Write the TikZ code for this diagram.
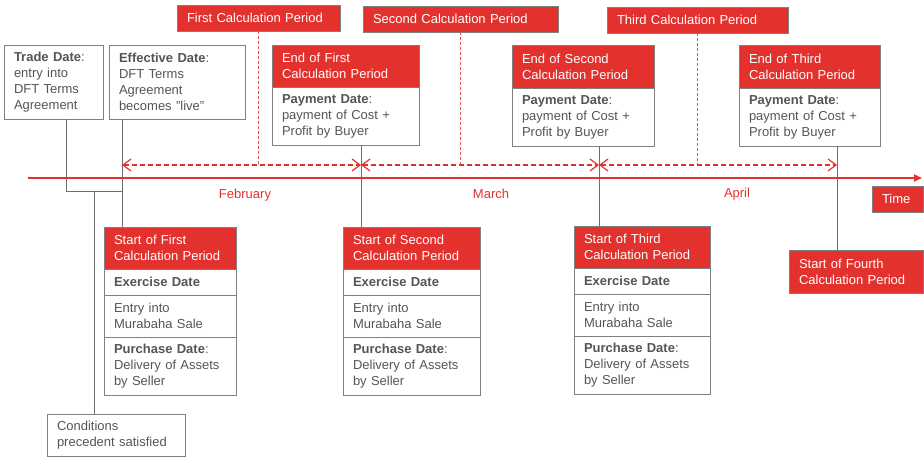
\documentclass[tikz,border=0pt]{standalone}
\usepackage{fontspec}
\setmainfont{Liberation Sans}
\usetikzlibrary{positioning,arrows.meta}
\definecolor{dftred}{RGB}{227,50,46}
\definecolor{dftgray}{RGB}{128,128,128}
\definecolor{dfttext}{RGB}{85,85,85}
\definecolor{dftline}{RGB}{110,110,110}

\begin{document}
\begin{tikzpicture}[x=1pt,y=-1pt]
  \tikzset{BoxStyle/.style 2 args = {
    shape          = rectangle,
    draw           = dftgray,
    fill           = white,
    line width     = 0.9pt,
    text           = dfttext,
    align          = left,
    anchor         = north west,
    inner xsep     = 10pt,
    inner ysep     = 0pt,
    outer sep      = 0pt,
    text width     = #1pt-20pt,
    minimum height = #2pt,
    font           = \fontsize{13}{16}\selectfont
    }
  }
  \tikzset{HeadStyle/.style 2 args = {
    BoxStyle = {#1}{#2},
    fill     = dftred,
    text     = white
    }
  }
  \tikzset{LinkStyle/.style = {
    draw       = dftline,
    line width = 0.9pt
    }
  }
  \tikzset{DashStyle/.style = {
    draw         = dftred!85,
    line width   = 0.9pt,
    dash pattern = on 3pt off 2pt
    }
  }
  \tikzset{PeriodStyle/.style = {
    draw         = dftred,
    line width   = 1.2pt,
    dash pattern = on 5pt off 3pt,
    {Straight Barb[length=8pt,width=12pt]}-{Straight Barb[length=8pt,width=12pt]}
    }
  }
  \tikzset{TimeLineStyle/.style = {
    draw       = dftred,
    line width = 2pt,
    -{Triangle[length=8pt,width=7pt]}
    }
  }
  \tikzset{MonthStyle/.style = {
    text = dftred,
    font = \fontsize{13}{16}\selectfont
    }
  }

	\useasboundingbox (0,0) rectangle (924,466);

	\node[BoxStyle={99}{74}](TD) at (4,45) {\textbf{Trade Date}:\\entry into\\DFT Terms\\Agreement};
	\node[BoxStyle={136}{74}](ED) at (109,45) {\textbf{Effective Date}:\\DFT Terms\\Agreement\\becomes "live"};
	\node[HeadStyle={163}{26}](P1) at (177,5) {First Calculation Period};
	\node[HeadStyle={195}{26}](P2) at (363,6) {Second Calculation Period};
	\node[HeadStyle={181}{26}](P3) at (607,7) {Third Calculation Period};

	\node[HeadStyle={147}{42}](E1) at (272,45) {End of First\\Calculation Period};
	\node[BoxStyle={147}{58}, below=0pt of E1](E1b) {\textbf{Payment Date}:\\payment of Cost +\\Profit by Buyer};
	\node[HeadStyle={142}{43}](E2) at (512,45) {End of Second\\Calculation Period};
	\node[BoxStyle={142}{58}, below=0pt of E2](E2b) {\textbf{Payment Date}:\\payment of Cost +\\Profit by Buyer};
	\node[HeadStyle={141}{43}](E3) at (739,45) {End of Third\\Calculation Period};
	\node[BoxStyle={141}{58}, below=0pt of E3](E3b) {\textbf{Payment Date}:\\payment of Cost +\\Profit by Buyer};

	\node[HeadStyle={132}{42}](S1) at (104,227) {Start of First\\Calculation Period};
	\node[BoxStyle={132}{26}, below=0pt of S1](S1x) {\textbf{Exercise Date}};
	\node[BoxStyle={132}{42}, below=0pt of S1x](S1e) {Entry into\\Murabaha Sale};
	\node[BoxStyle={132}{58}, below=0pt of S1e](S1p) {\textbf{Purchase Date}:\\Delivery of Assets\\by Seller};
	\node[HeadStyle={137}{42}](S2) at (343,227) {Start of Second\\Calculation Period};
	\node[BoxStyle={137}{26}, below=0pt of S2](S2x) {\textbf{Exercise Date}};
	\node[BoxStyle={137}{42}, below=0pt of S2x](S2e) {Entry into\\Murabaha Sale};
	\node[BoxStyle={137}{58}, below=0pt of S2e](S2p) {\textbf{Purchase Date}:\\Delivery of Assets\\by Seller};
	\node[HeadStyle={136}{42}](S3) at (574,226) {Start of Third\\Calculation Period};
	\node[BoxStyle={136}{26}, below=0pt of S3](S3x) {\textbf{Exercise Date}};
	\node[BoxStyle={136}{42}, below=0pt of S3x](S3e) {Entry into\\Murabaha Sale};
	\node[BoxStyle={136}{58}, below=0pt of S3e](S3p) {\textbf{Purchase Date}:\\Delivery of Assets\\by Seller};
	\node[HeadStyle={134}{43}](S4) at (789,250) {Start of Fourth\\Calculation Period};

	\node[HeadStyle={51}{26}](TM) at (872,186) {Time};
	\node[BoxStyle={138}{42}](CP) at (47,414) {Conditions\\precedent satisfied};

	\node[MonthStyle](M1) at (245,195) {February};
	\node[MonthStyle](M2) at (491,194) {March};
	\node[MonthStyle](M3) at (737,194) {April};

	\coordinate (L0) at (28,178);
	\coordinate (L1) at (922,178);
	\coordinate (D0) at (122,165);
	\coordinate (D1) at (361,165);
	\coordinate (D2) at (599,165);
	\coordinate (D3) at (837,165);
	\coordinate (K0) at (66,191);
	\coordinate (K1) at (122,191);
	\coordinate (K2) at (94,191);

	\draw[LinkStyle](TD.south -| K0) -- (K0) -- (K1);
	\draw[LinkStyle](ED.south -| K1) -- (S1.north -| K1);
	\draw[LinkStyle](K2) -- (CP.north -| K2);
	\draw[LinkStyle](E1b.south -| D1) -- (S2.north -| D1);
	\draw[LinkStyle](E2b.south -| D2) -- (S3.north -| D2);
	\draw[LinkStyle](E3b.south -| D3) -- (S4.north -| D3);

	\draw[DashStyle](P1.south) -- (P1.south |- D0);
	\draw[DashStyle](P2.south) -- (P2.south |- D0);
	\draw[DashStyle](P3.south) -- (P3.south |- D0);
	\draw[PeriodStyle](D0) -- (D1);
	\draw[PeriodStyle](D1) -- (D2);
	\draw[PeriodStyle](D2) -- (D3);

	\draw[TimeLineStyle](L0) -- (L1);

\end{tikzpicture}
\end{document}
